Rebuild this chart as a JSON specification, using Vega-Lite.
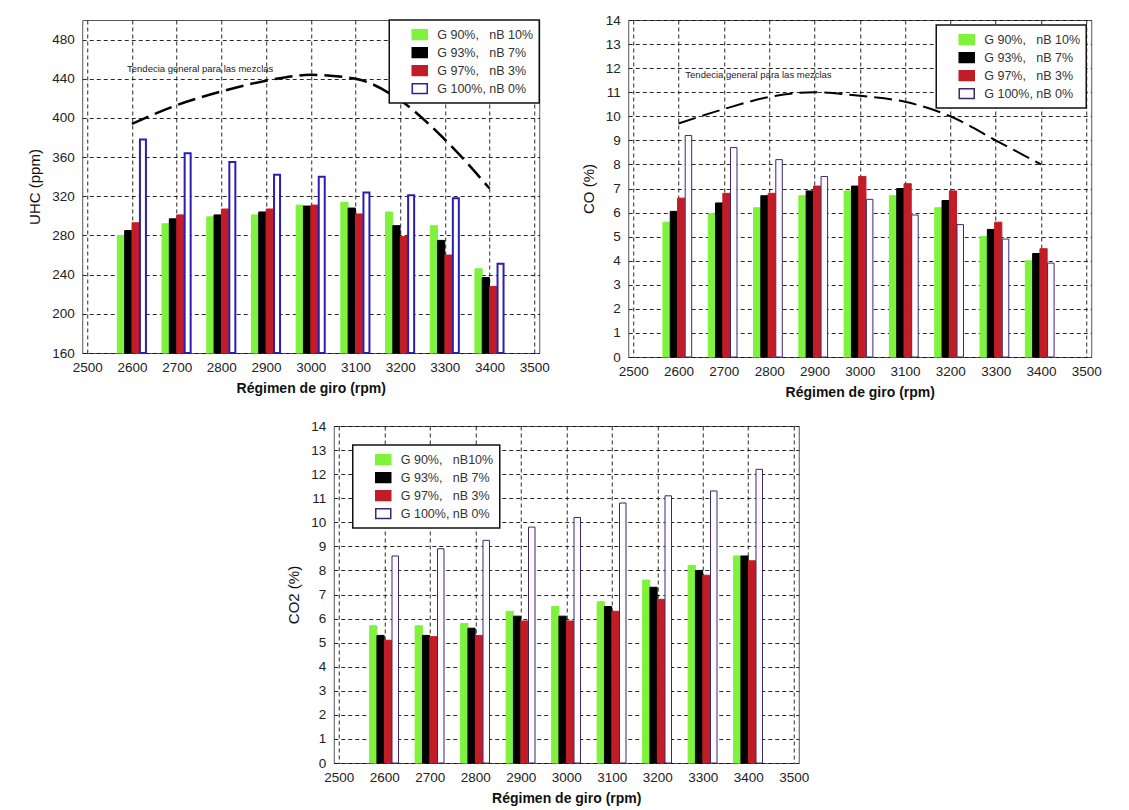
{
  "$schema": "https://vega.github.io/schema/vega-lite/v6.json",
  "padding": {"left": 27, "top": 12, "right": 5, "bottom": 0},
  "background": "white",
  "datasets": {
    "uhc": [
      {"rpm": 2600, "s": "G 90%,\u00a0\u00a0 nB 10%", "v": 280}, {"rpm": 2600, "s": "G 93%,\u00a0\u00a0 nB 7%", "v": 285}, {"rpm": 2600, "s": "G 97%,\u00a0\u00a0 nB 3%", "v": 293}, {"rpm": 2600, "s": "G 100%, nB 0%", "v": 378},
      {"rpm": 2700, "s": "G 90%,\u00a0\u00a0 nB 10%", "v": 292}, {"rpm": 2700, "s": "G 93%,\u00a0\u00a0 nB 7%", "v": 297}, {"rpm": 2700, "s": "G 97%,\u00a0\u00a0 nB 3%", "v": 301}, {"rpm": 2700, "s": "G 100%, nB 0%", "v": 364},
      {"rpm": 2800, "s": "G 90%,\u00a0\u00a0 nB 10%", "v": 299}, {"rpm": 2800, "s": "G 93%,\u00a0\u00a0 nB 7%", "v": 301}, {"rpm": 2800, "s": "G 97%,\u00a0\u00a0 nB 3%", "v": 307}, {"rpm": 2800, "s": "G 100%, nB 0%", "v": 355},
      {"rpm": 2900, "s": "G 90%,\u00a0\u00a0 nB 10%", "v": 301}, {"rpm": 2900, "s": "G 93%,\u00a0\u00a0 nB 7%", "v": 304}, {"rpm": 2900, "s": "G 97%,\u00a0\u00a0 nB 3%", "v": 307}, {"rpm": 2900, "s": "G 100%, nB 0%", "v": 342},
      {"rpm": 3000, "s": "G 90%,\u00a0\u00a0 nB 10%", "v": 311}, {"rpm": 3000, "s": "G 93%,\u00a0\u00a0 nB 7%", "v": 310}, {"rpm": 3000, "s": "G 97%,\u00a0\u00a0 nB 3%", "v": 311}, {"rpm": 3000, "s": "G 100%, nB 0%", "v": 340},
      {"rpm": 3100, "s": "G 90%,\u00a0\u00a0 nB 10%", "v": 314}, {"rpm": 3100, "s": "G 93%,\u00a0\u00a0 nB 7%", "v": 308}, {"rpm": 3100, "s": "G 97%,\u00a0\u00a0 nB 3%", "v": 302}, {"rpm": 3100, "s": "G 100%, nB 0%", "v": 324},
      {"rpm": 3200, "s": "G 90%,\u00a0\u00a0 nB 10%", "v": 304}, {"rpm": 3200, "s": "G 93%,\u00a0\u00a0 nB 7%", "v": 290}, {"rpm": 3200, "s": "G 97%,\u00a0\u00a0 nB 3%", "v": 279}, {"rpm": 3200, "s": "G 100%, nB 0%", "v": 321},
      {"rpm": 3300, "s": "G 90%,\u00a0\u00a0 nB 10%", "v": 290}, {"rpm": 3300, "s": "G 93%,\u00a0\u00a0 nB 7%", "v": 275}, {"rpm": 3300, "s": "G 97%,\u00a0\u00a0 nB 3%", "v": 260}, {"rpm": 3300, "s": "G 100%, nB 0%", "v": 318},
      {"rpm": 3400, "s": "G 90%,\u00a0\u00a0 nB 10%", "v": 246}, {"rpm": 3400, "s": "G 93%,\u00a0\u00a0 nB 7%", "v": 237}, {"rpm": 3400, "s": "G 97%,\u00a0\u00a0 nB 3%", "v": 228}, {"rpm": 3400, "s": "G 100%, nB 0%", "v": 251}
    ],
    "uhcTrend": [
      {"rpm": 2600, "v": 394}, {"rpm": 2700, "v": 413}, {"rpm": 2800, "v": 427}, {"rpm": 2900, "v": 438}, {"rpm": 3000, "v": 444},
      {"rpm": 3100, "v": 440}, {"rpm": 3200, "v": 418}, {"rpm": 3300, "v": 378}, {"rpm": 3400, "v": 328}
    ],
    "co": [
      {"rpm": 2600, "s": "G 90%,\u00a0\u00a0 nB 10%", "v": 5.6}, {"rpm": 2600, "s": "G 93%,\u00a0\u00a0 nB 7%", "v": 6.05}, {"rpm": 2600, "s": "G 97%,\u00a0\u00a0 nB 3%", "v": 6.6}, {"rpm": 2600, "s": "G 100%, nB 0%", "v": 9.2},
      {"rpm": 2700, "s": "G 90%,\u00a0\u00a0 nB 10%", "v": 5.95}, {"rpm": 2700, "s": "G 93%,\u00a0\u00a0 nB 7%", "v": 6.4}, {"rpm": 2700, "s": "G 97%,\u00a0\u00a0 nB 3%", "v": 6.8}, {"rpm": 2700, "s": "G 100%, nB 0%", "v": 8.7},
      {"rpm": 2800, "s": "G 90%,\u00a0\u00a0 nB 10%", "v": 6.2}, {"rpm": 2800, "s": "G 93%,\u00a0\u00a0 nB 7%", "v": 6.7}, {"rpm": 2800, "s": "G 97%,\u00a0\u00a0 nB 3%", "v": 6.8}, {"rpm": 2800, "s": "G 100%, nB 0%", "v": 8.2},
      {"rpm": 2900, "s": "G 90%,\u00a0\u00a0 nB 10%", "v": 6.7}, {"rpm": 2900, "s": "G 93%,\u00a0\u00a0 nB 7%", "v": 6.9}, {"rpm": 2900, "s": "G 97%,\u00a0\u00a0 nB 3%", "v": 7.1}, {"rpm": 2900, "s": "G 100%, nB 0%", "v": 7.5},
      {"rpm": 3000, "s": "G 90%,\u00a0\u00a0 nB 10%", "v": 6.9}, {"rpm": 3000, "s": "G 93%,\u00a0\u00a0 nB 7%", "v": 7.1}, {"rpm": 3000, "s": "G 97%,\u00a0\u00a0 nB 3%", "v": 7.5}, {"rpm": 3000, "s": "G 100%, nB 0%", "v": 6.55},
      {"rpm": 3100, "s": "G 90%,\u00a0\u00a0 nB 10%", "v": 6.7}, {"rpm": 3100, "s": "G 93%,\u00a0\u00a0 nB 7%", "v": 7.0}, {"rpm": 3100, "s": "G 97%,\u00a0\u00a0 nB 3%", "v": 7.2}, {"rpm": 3100, "s": "G 100%, nB 0%", "v": 5.9},
      {"rpm": 3200, "s": "G 90%,\u00a0\u00a0 nB 10%", "v": 6.2}, {"rpm": 3200, "s": "G 93%,\u00a0\u00a0 nB 7%", "v": 6.5}, {"rpm": 3200, "s": "G 97%,\u00a0\u00a0 nB 3%", "v": 6.9}, {"rpm": 3200, "s": "G 100%, nB 0%", "v": 5.5},
      {"rpm": 3300, "s": "G 90%,\u00a0\u00a0 nB 10%", "v": 5.0}, {"rpm": 3300, "s": "G 93%,\u00a0\u00a0 nB 7%", "v": 5.3}, {"rpm": 3300, "s": "G 97%,\u00a0\u00a0 nB 3%", "v": 5.6}, {"rpm": 3300, "s": "G 100%, nB 0%", "v": 4.9},
      {"rpm": 3400, "s": "G 90%,\u00a0\u00a0 nB 10%", "v": 4.0}, {"rpm": 3400, "s": "G 93%,\u00a0\u00a0 nB 7%", "v": 4.3}, {"rpm": 3400, "s": "G 97%,\u00a0\u00a0 nB 3%", "v": 4.5}, {"rpm": 3400, "s": "G 100%, nB 0%", "v": 3.9}
    ],
    "coTrend": [
      {"rpm": 2600, "v": 9.7}, {"rpm": 2700, "v": 10.3}, {"rpm": 2800, "v": 10.8}, {"rpm": 2900, "v": 11.0}, {"rpm": 3000, "v": 10.85},
      {"rpm": 3100, "v": 10.6}, {"rpm": 3200, "v": 10.0}, {"rpm": 3300, "v": 9.0}, {"rpm": 3400, "v": 8.0}
    ],
    "co2": [
      {"rpm": 2600, "s": "G 90%,\u00a0\u00a0 nB10%", "v": 5.7}, {"rpm": 2600, "s": "G 93%,\u00a0\u00a0 nB 7%", "v": 5.3}, {"rpm": 2600, "s": "G 97%,\u00a0\u00a0 nB 3%", "v": 5.1}, {"rpm": 2600, "s": "G 100%, nB 0%", "v": 8.6},
      {"rpm": 2700, "s": "G 90%,\u00a0\u00a0 nB10%", "v": 5.7}, {"rpm": 2700, "s": "G 93%,\u00a0\u00a0 nB 7%", "v": 5.3}, {"rpm": 2700, "s": "G 97%,\u00a0\u00a0 nB 3%", "v": 5.25}, {"rpm": 2700, "s": "G 100%, nB 0%", "v": 8.9},
      {"rpm": 2800, "s": "G 90%,\u00a0\u00a0 nB10%", "v": 5.8}, {"rpm": 2800, "s": "G 93%,\u00a0\u00a0 nB 7%", "v": 5.6}, {"rpm": 2800, "s": "G 97%,\u00a0\u00a0 nB 3%", "v": 5.3}, {"rpm": 2800, "s": "G 100%, nB 0%", "v": 9.25},
      {"rpm": 2900, "s": "G 90%,\u00a0\u00a0 nB10%", "v": 6.3}, {"rpm": 2900, "s": "G 93%,\u00a0\u00a0 nB 7%", "v": 6.1}, {"rpm": 2900, "s": "G 97%,\u00a0\u00a0 nB 3%", "v": 5.9}, {"rpm": 2900, "s": "G 100%, nB 0%", "v": 9.8},
      {"rpm": 3000, "s": "G 90%,\u00a0\u00a0 nB10%", "v": 6.5}, {"rpm": 3000, "s": "G 93%,\u00a0\u00a0 nB 7%", "v": 6.1}, {"rpm": 3000, "s": "G 97%,\u00a0\u00a0 nB 3%", "v": 5.9}, {"rpm": 3000, "s": "G 100%, nB 0%", "v": 10.2},
      {"rpm": 3100, "s": "G 90%,\u00a0\u00a0 nB10%", "v": 6.7}, {"rpm": 3100, "s": "G 93%,\u00a0\u00a0 nB 7%", "v": 6.5}, {"rpm": 3100, "s": "G 97%,\u00a0\u00a0 nB 3%", "v": 6.3}, {"rpm": 3100, "s": "G 100%, nB 0%", "v": 10.8},
      {"rpm": 3200, "s": "G 90%,\u00a0\u00a0 nB10%", "v": 7.6}, {"rpm": 3200, "s": "G 93%,\u00a0\u00a0 nB 7%", "v": 7.3}, {"rpm": 3200, "s": "G 97%,\u00a0\u00a0 nB 3%", "v": 6.8}, {"rpm": 3200, "s": "G 100%, nB 0%", "v": 11.1},
      {"rpm": 3300, "s": "G 90%,\u00a0\u00a0 nB10%", "v": 8.2}, {"rpm": 3300, "s": "G 93%,\u00a0\u00a0 nB 7%", "v": 8.0}, {"rpm": 3300, "s": "G 97%,\u00a0\u00a0 nB 3%", "v": 7.8}, {"rpm": 3300, "s": "G 100%, nB 0%", "v": 11.3},
      {"rpm": 3400, "s": "G 90%,\u00a0\u00a0 nB10%", "v": 8.6}, {"rpm": 3400, "s": "G 93%,\u00a0\u00a0 nB 7%", "v": 8.6}, {"rpm": 3400, "s": "G 97%,\u00a0\u00a0 nB 3%", "v": 8.4}, {"rpm": 3400, "s": "G 100%, nB 0%", "v": 12.2}
    ]
  },
  "config": {
    "font": "Liberation Sans",
    "view": {"stroke": "#555", "strokeWidth": 1},
    "bar": {"width": 7.2},
    "axis": {
      "grid": true, "gridColor": "#111", "gridDash": [4, 3], "gridWidth": 0.9,
      "domain": false, "ticks": false, "labelOverlap": false,
      "labelFont": "Liberation Sans", "labelFontSize": 13.5, "labelColor": "#222",
      "titleFont": "Liberation Sans", "titleColor": "#111"
    },
    "axisX": {"titleFontSize": 14, "titleFontWeight": "bold", "labelPadding": 7, "titlePadding": 8},
    "axisY": {"titleFontSize": 15, "titleFontWeight": "normal", "labelPadding": 8, "titlePadding": 9},
    "legend": {
      "title": null, "strokeColor": "#111", "strokeWidth": 1.5, "fillColor": "white",
      "padding": 6, "symbolOffset": 16, "labelFontSize": 12.5, "labelColor": "#333",
      "symbolType": "M-1,-0.65H1V0.65H-1Z", "symbolSize": 225, "symbolStrokeWidth": 1.5,
      "rowPadding": 1, "labelOffset": 9
    }
  },
  "vconcat": [
    {
      "hconcat": [
        {
          "width": 457, "height": 333,
          "encoding": {
            "x": {"field": "rpm", "type": "quantitative", "scale": {"domain": [2500, 3500], "nice": false},
                  "axis": {"values": [2500, 2600, 2700, 2800, 2900, 3000, 3100, 3200, 3300, 3400, 3500], "format": "d", "title": "Régimen de giro (rpm)"}},
            "y": {"field": "v", "type": "quantitative", "stack": null, "scale": {"domain": [160, 500], "nice": false, "zero": false},
                  "axis": {"values": [160, 200, 240, 280, 320, 360, 400, 440, 480], "title": "UHC (ppm)"}}
          },
          "layer": [
            {
              "data": {"name": "uhc"},
              "encoding": {
                "fill": {"field": "s", "type": "nominal",
                         "scale": {"domain": ["G 90%,\u00a0\u00a0 nB 10%", "G 93%,\u00a0\u00a0 nB 7%", "G 97%,\u00a0\u00a0 nB 3%", "G 100%, nB 0%"], "range": ["#7ef23c", "#000000", "#c21d27", "#ffffff"]},
                         "legend": {"orient": "top-right", "offset": 0}},
                "stroke": {"field": "s", "type": "nominal",
                           "scale": {"domain": ["G 90%,\u00a0\u00a0 nB 10%", "G 93%,\u00a0\u00a0 nB 7%", "G 97%,\u00a0\u00a0 nB 3%", "G 100%, nB 0%"], "range": ["#7ef23c", "#000000", "#c21d27", "#2a1fb0"]},
                           "legend": {"orient": "top-right", "offset": 0}}
              },
              "layer": [
                {"transform": [{"filter": "datum.s === 'G 90%,\u00a0\u00a0 nB 10%'"}], "mark": {"type": "bar", "xOffset": -11, "strokeWidth": 1}},
                {"transform": [{"filter": "datum.s === 'G 93%,\u00a0\u00a0 nB 7%'"}], "mark": {"type": "bar", "xOffset": -3.7, "strokeWidth": 1}},
                {"transform": [{"filter": "datum.s === 'G 97%,\u00a0\u00a0 nB 3%'"}], "mark": {"type": "bar", "xOffset": 3.7, "strokeWidth": 1}},
                {"transform": [{"filter": "datum.s === 'G 100%, nB 0%'"}], "mark": {"type": "bar", "xOffset": 11, "strokeWidth": 2, "width": 6}}
              ]
            },
            {
              "data": {"name": "uhcTrend"},
              "mark": {"type": "line", "color": "#000", "strokeWidth": 2.5, "strokeDash": [18, 7], "interpolate": "monotone"}
            },
            {
              "data": {"values": [{"rpm": 2589, "v": 450, "t": "Tendecia general para las mezclas"}]},
              "mark": {"type": "text", "align": "left", "baseline": "middle", "fontSize": 9.5, "color": "#222"},
              "encoding": {"text": {"field": "t"}}
            }
          ]
        },
        {
          "width": 463, "height": 337,
          "encoding": {
            "x": {"field": "rpm", "type": "quantitative", "scale": {"domain": [2500, 3500], "nice": false},
                  "axis": {"values": [2500, 2600, 2700, 2800, 2900, 3000, 3100, 3200, 3300, 3400, 3500], "format": "d", "title": "Régimen de giro (rpm)"}},
            "y": {"field": "v", "type": "quantitative", "stack": null, "scale": {"domain": [0, 14], "nice": false},
                  "axis": {"values": [0, 1, 2, 3, 4, 5, 6, 7, 8, 9, 10, 11, 12, 13, 14], "title": "CO (%)"}}
          },
          "layer": [
            {
              "data": {"name": "co"},
              "encoding": {
                "fill": {"field": "s", "type": "nominal",
                         "scale": {"domain": ["G 90%,\u00a0\u00a0 nB 10%", "G 93%,\u00a0\u00a0 nB 7%", "G 97%,\u00a0\u00a0 nB 3%", "G 100%, nB 0%"], "range": ["#7ef23c", "#000000", "#c21d27", "#fdfbff"]},
                         "legend": {"orient": "top-right", "offset": 5}},
                "stroke": {"field": "s", "type": "nominal",
                           "scale": {"domain": ["G 90%,\u00a0\u00a0 nB 10%", "G 93%,\u00a0\u00a0 nB 7%", "G 97%,\u00a0\u00a0 nB 3%", "G 100%, nB 0%"], "range": ["#7ef23c", "#000000", "#c21d27", "#3b2a6a"]},
                           "legend": {"orient": "top-right", "offset": 5}}
              },
              "layer": [
                {"transform": [{"filter": "datum.s === 'G 90%,\u00a0\u00a0 nB 10%'"}], "mark": {"type": "bar", "xOffset": -12, "strokeWidth": 1}},
                {"transform": [{"filter": "datum.s === 'G 93%,\u00a0\u00a0 nB 7%'"}], "mark": {"type": "bar", "xOffset": -4.7, "strokeWidth": 1}},
                {"transform": [{"filter": "datum.s === 'G 97%,\u00a0\u00a0 nB 3%'"}], "mark": {"type": "bar", "xOffset": 2.6, "strokeWidth": 1}},
                {"transform": [{"filter": "datum.s === 'G 100%, nB 0%'"}], "mark": {"type": "bar", "xOffset": 9.9, "strokeWidth": 1, "width": 6.5}}
              ]
            },
            {
              "data": {"name": "coTrend"},
              "mark": {"type": "line", "color": "#000", "strokeWidth": 2, "strokeDash": [18, 7], "interpolate": "monotone"}
            },
            {
              "data": {"values": [{"rpm": 2615, "v": 11.7, "t": "Tendecia general para las mezclas"}]},
              "mark": {"type": "text", "align": "left", "baseline": "middle", "fontSize": 9.5, "color": "#222"},
              "encoding": {"text": {"field": "t"}}
            }
          ]
        }
      ],
      "spacing": 30,
      "resolve": {"scale": {"x": "independent", "y": "independent", "fill": "independent", "stroke": "independent"}, "legend": {"fill": "independent", "stroke": "independent"}}
    },
    {
      "width": 465, "height": 337,
      "data": {"name": "co2"},
      "encoding": {
        "x": {"field": "rpm", "type": "quantitative", "scale": {"domain": [2500, 3500], "nice": false},
              "axis": {"values": [2500, 2600, 2700, 2800, 2900, 3000, 3100, 3200, 3300, 3400, 3500], "format": "d", "title": "Régimen de giro (rpm)"}},
        "y": {"field": "v", "type": "quantitative", "stack": null, "scale": {"domain": [0, 14], "nice": false},
              "axis": {"values": [0, 1, 2, 3, 4, 5, 6, 7, 8, 9, 10, 11, 12, 13, 14], "title": "CO2 (%)"}},
        "fill": {"field": "s", "type": "nominal",
                 "scale": {"domain": ["G 90%,\u00a0\u00a0 nB10%", "G 93%,\u00a0\u00a0 nB 7%", "G 97%,\u00a0\u00a0 nB 3%", "G 100%, nB 0%"], "range": ["#7ef23c", "#000000", "#c21d27", "#fdfbff"]},
                 "legend": {"orient": "top-left", "offset": 19}},
        "stroke": {"field": "s", "type": "nominal",
                   "scale": {"domain": ["G 90%,\u00a0\u00a0 nB10%", "G 93%,\u00a0\u00a0 nB 7%", "G 97%,\u00a0\u00a0 nB 3%", "G 100%, nB 0%"], "range": ["#7ef23c", "#000000", "#c21d27", "#3b2a6a"]},
                   "legend": {"orient": "top-left", "offset": 19}}
      },
      "layer": [
        {
          "layer": [
            {"transform": [{"filter": "datum.s === 'G 90%,\u00a0\u00a0 nB10%'"}], "mark": {"type": "bar", "xOffset": -11, "strokeWidth": 1}},
            {"transform": [{"filter": "datum.s === 'G 93%,\u00a0\u00a0 nB 7%'"}], "mark": {"type": "bar", "xOffset": -3.7, "strokeWidth": 1}},
            {"transform": [{"filter": "datum.s === 'G 97%,\u00a0\u00a0 nB 3%'"}], "mark": {"type": "bar", "xOffset": 3.7, "strokeWidth": 1}}
          ]
        },
        {
          "transform": [{"filter": "datum.s === 'G 100%, nB 0%'"}],
          "mark": {"type": "bar", "xOffset": 11, "strokeWidth": 1, "width": 6.5},
          "encoding": {
            "y": {"field": "v", "type": "quantitative", "stack": null,
                  "axis": {"orient": "right", "labels": false, "grid": false, "domain": false, "ticks": true, "tickSize": 51, "tickOpacity": 0, "title": null}}
          }
        }
      ],
      "resolve": {"axis": {"y": "independent"}}
    }
  ],
  "spacing": 18,
  "center": true,
  "resolve": {"scale": {"x": "independent", "y": "independent", "fill": "independent", "stroke": "independent"}, "legend": {"fill": "independent", "stroke": "independent"}}
}
